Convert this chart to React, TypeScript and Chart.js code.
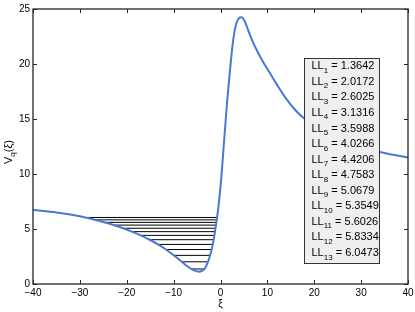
import { useEffect, useRef } from 'react';
import { Chart, registerables } from 'chart.js';
Chart.register(...registerables);

const curveX = [-40, -35, -30, -26, -22, -18, -15, -12, -9.5, -7.5, -6, -4.6, -3.3, -2.6, -1.9, -1.2, -0.5, 0.2, 0.8, 1.4, 2.0, 2.6, 3.2, 3.9, 4.5, 5.1, 5.8, 6.6, 7.5, 9, 10.5, 12, 14, 16, 18, 20, 25, 30, 34, 40];
const curveY = [6.73, 6.5, 6.15, 5.75, 5.25, 4.6, 4.0, 3.25, 2.45, 1.75, 1.3, 1.12, 1.45, 2.1, 3.1, 4.7, 6.8, 9.8, 13.2, 16.5, 19.3, 21.8, 23.4, 24.15, 24.25, 23.95, 23.2, 22.3, 21.45, 20.25, 19.2, 18.15, 16.85, 15.8, 15.0, 14.4, 13.3, 12.5, 12.0, 11.5];

const levels = [1.3642, 2.0172, 2.6025, 3.1316, 3.5988, 4.0266, 4.4206, 4.7583, 5.0679, 5.3549, 5.6026, 5.8334, 6.0473];
const levelLabels = ['1.3642', '2.0172', '2.6025', '3.1316', '3.5988', '4.0266', '4.4206', '4.7583', '5.0679', '5.3549', '5.6026', '5.8334', '6.0473'];
const levelLeft = [-6.2, -8.3, -10.0, -11.6, -13.4, -15.1, -17.1, -19.0, -20.9, -22.8, -24.8, -26.8, -29.0];
const levelRight = [-3.64, -2.69, -2.25, -1.89, -1.68, -1.49, -1.32, -1.18, -1.08, -0.98, -0.9, -0.82, -0.75];

const xTicks = [-40, -30, -20, -10, 0, 10, 20, 30, 40];
const yTicks = [0, 5, 10, 15, 20, 25];

const FONT = '"Liberation Sans", Arial, Helvetica, sans-serif';

const framePlugin = {
  id: 'frame',
  afterDatasetsDraw(chart: any) {
    const { ctx, chartArea: a, scales } = chart;
    ctx.save();
    // frame
    ctx.strokeStyle = '#262626';
    ctx.lineWidth = 1.3;
    ctx.strokeRect(a.left, a.top, a.right - a.left, a.bottom - a.top);
    // inward ticks
    ctx.lineWidth = 1;
    ctx.beginPath();
    const tl = 4;
    xTicks.forEach((v) => {
      const px = Math.round(scales.x.getPixelForValue(v)) + 0.5;
      ctx.moveTo(px, a.bottom); ctx.lineTo(px, a.bottom - tl);
      ctx.moveTo(px, a.top); ctx.lineTo(px, a.top + tl);
    });
    yTicks.forEach((v) => {
      const py = Math.round(scales.y.getPixelForValue(v)) + 0.5;
      ctx.moveTo(a.left, py); ctx.lineTo(a.left + tl, py);
      ctx.moveTo(a.right, py); ctx.lineTo(a.right - tl, py);
    });
    ctx.stroke();

    // legend box
    const bx = 304, by = 58, bw = 75, bh = 205;
    ctx.fillStyle = '#efefef';
    ctx.fillRect(bx, by, bw, bh);
    ctx.strokeStyle = '#333';
    ctx.lineWidth = 1;
    ctx.strokeRect(bx + 0.5, by + 0.5, bw, bh);
    ctx.fillStyle = '#000';
    ctx.textBaseline = 'alphabetic';
    ctx.textAlign = 'left';
    levelLabels.forEach((lab, i) => {
      const base = 69.3 + i * 15.56;
      let x = 311.5;
      ctx.font = '11px ' + FONT;
      ctx.fillText('LL', x, base);
      x += ctx.measureText('LL').width;
      ctx.font = '8px ' + FONT;
      const sub = String(i + 1);
      ctx.fillText(sub, x, base + 3.5);
      x += ctx.measureText(sub).width;
      ctx.font = '11px ' + FONT;
      ctx.fillText(' = ' + lab, x, base);
    });

    // y title V_q(ξ)
    ctx.save();
    ctx.translate(12, 152);
    ctx.rotate(-Math.PI / 2);
    ctx.font = '11px ' + FONT;
    const wV = ctx.measureText('V').width;
    ctx.font = '8px ' + FONT;
    const wq = ctx.measureText('q').width;
    ctx.font = '11px ' + FONT;
    const wP = ctx.measureText('(ξ)').width;
    const total = wV + wq + wP;
    let sx = -total / 2;
    ctx.fillText('V', sx, 0);
    sx += wV;
    ctx.font = '8px ' + FONT;
    ctx.fillText('q', sx, 3);
    sx += wq;
    ctx.font = '11px ' + FONT;
    ctx.fillText('(ξ)', sx, 0);
    ctx.restore();

    // x title
    ctx.font = '10px ' + FONT;
    ctx.textAlign = 'center';
    ctx.fillText('ξ', scales.x.getPixelForValue(0), 307);
    ctx.restore();
  },
};

export default function App() {
  const ref = useRef<HTMLCanvasElement | null>(null);
  useEffect(() => {
    if (!ref.current) return;
    const datasets: any[] = [
      {
        data: curveX.map((x, i) => ({ x, y: curveY[i] })),
        borderColor: '#4a78d6',
        borderWidth: 2,
        pointRadius: 0,
        cubicInterpolationMode: 'monotone',
        fill: false,
        order: 0,
      },
    ];
    levels.forEach((lv, i) => {
      datasets.push({
        data: [{ x: levelLeft[i], y: lv }, { x: levelRight[i], y: lv }],
        borderColor: '#000',
        borderWidth: 1,
        pointRadius: 0,
        fill: false,
        order: 1,
      });
    });
    const chart = new Chart(ref.current, {
      type: 'line',
      data: { datasets },
      options: {
        animation: false,
        responsive: false,
        maintainAspectRatio: false,
        layout: { padding: { top: 9, right: 7, left: 0, bottom: 0 } },
        plugins: { legend: { display: false }, tooltip: { enabled: false } },
        scales: {
          x: {
            type: 'linear',
            min: -40,
            max: 40,
            grid: { display: false, drawTicks: false },
            border: { display: false },
            ticks: {
              stepSize: 10,
              padding: 3,
              color: '#000',
              font: { size: 10, family: FONT },
              maxRotation: 0,
              callback: (v: any) => String(v).replace('-', '\u2212'),
            },
            afterFit: (s: any) => { s.height = 28; s.paddingLeft = 0; s.paddingRight = 0; },
          },
          y: {
            type: 'linear',
            min: 0,
            max: 25,
            grid: { display: false, drawTicks: false },
            border: { display: false },
            ticks: {
              stepSize: 5,
              padding: 3,
              color: '#000',
              font: { size: 10, family: FONT },
            },
            afterFit: (s: any) => { s.width = 33; s.paddingTop = 0; s.paddingBottom = 0; },
          },
        },
      },
      plugins: [framePlugin],
    });
    return () => chart.destroy();
  }, []);
  return (
    <div style={{ position: 'fixed', left: 0, top: 0, width: 415, height: 312, background: '#fff' }}>
      <canvas ref={ref} width={415} height={312} style={{ display: 'block' }} />
    </div>
  );
}
